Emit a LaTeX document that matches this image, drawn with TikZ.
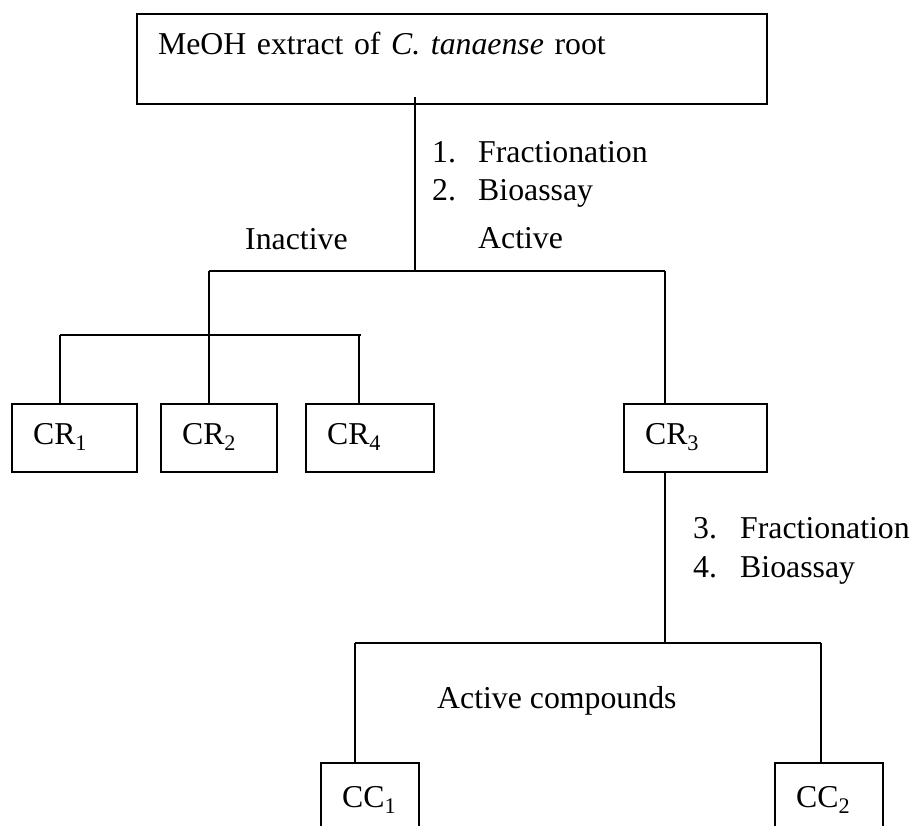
\documentclass[tikz,border=0pt]{standalone}
\usepackage{fontspec}
\setmainfont{Liberation Serif}
\begin{document}
\begin{tikzpicture}[x=1pt,y=-1pt,
  every node/.style={font=\fontsize{31.8}{38}\selectfont},
  boxnode/.style={draw, line width=2.1pt, anchor=north west, inner xsep=21pt, inner ysep=0pt, align=left, text height=40pt},
  opennode/.style={anchor=north west, inner xsep=21pt, inner ysep=0pt, align=left, text height=44pt, text depth=80pt},
  conn/.style={line width=1.4pt},
  edgeline/.style={line width=2.1pt},
  lbl/.style={anchor=base west, inner sep=0pt}]
\useasboundingbox (0,0) rectangle (913,825);
\fill[white] (0,0) rectangle (913,825);
% boxes
\node[boxnode, text width=588pt, text depth=50pt] (top) at (136,13) {MeOH extract of \textit{C. tanaense} root};
\node[boxnode, text width=83pt, text depth=28pt] (cr1) at (11,403) {CR\textsubscript{1}};
\node[boxnode, text width=74pt, text depth=28pt] (cr2) at (160,403) {CR\textsubscript{2}};
\node[boxnode, text width=86pt, text depth=28pt] (cr4) at (305,403) {CR\textsubscript{4}};
\node[boxnode, text width=101pt, text depth=28pt] (cr3) at (623,403) {CR\textsubscript{3}};
\node[opennode, text width=56pt] (cc1) at (321,763) {CC\textsubscript{1}};
\node[opennode, text width=66pt] (cc2) at (775,763) {CC\textsubscript{2}};
\draw[edgeline] (cc1.south west) -- (cc1.north west) -- (cc1.north east) -- (cc1.south east);
\draw[edgeline] (cc2.south west) -- (cc2.north west) -- (cc2.north east) -- (cc2.south east);
% labels
\node[lbl] (n1) at (432,162) {1.};
\node[lbl] (f1) at (478,162) {Fractionation};
\node[lbl] (n2) at (432,200) {2.};
\node[lbl] (b2) at (478,200) {Bioassay};
\node[lbl] (inact) at (245,249) {Inactive};
\node[lbl] (act) at (478,248) {Active};
\node[lbl] (n3) at (693,538) {3.};
\node[lbl] (f3) at (740,538) {Fractionation};
\node[lbl] (n4) at (693,577) {4.};
\node[lbl] (b4) at (740,577) {Bioassay};
\node[lbl] (actc) at (437,708) {Active compounds};
% junctions
\coordinate (j1) at (415,271);
\coordinate (h1l) at (209,271);
\coordinate (h1r) at (665,271);
\coordinate (h2l) at (60,335);
\coordinate (h2c) at (359,335);
\coordinate (h2r) at (361,335);
\coordinate (j3) at (665,643);
\coordinate (h3l) at (355,643);
\coordinate (h3r) at (821,643);
% connectors
\draw[conn] ([yshift=8pt]top.south -| j1) -- (j1);
\draw[conn] (h1l) -- (h1r);
\draw[conn] (h1l) -- (cr2.north -| h1l);
\draw[conn] (h1r) -- (cr3.north -| h1r);
\draw[conn] (h2l) -- (h2r);
\draw[conn] (h2l) -- (cr1.north -| h2l);
\draw[conn] (h2c) -- (cr4.north -| h2c);
\draw[conn] (cr3.south -| j3) -- (j3);
\draw[conn] (h3l) -- (h3r);
\draw[conn] (h3l) -- (cc1.north -| h3l);
\draw[conn] (h3r) -- (cc2.north -| h3r);
\end{tikzpicture}
\end{document}
